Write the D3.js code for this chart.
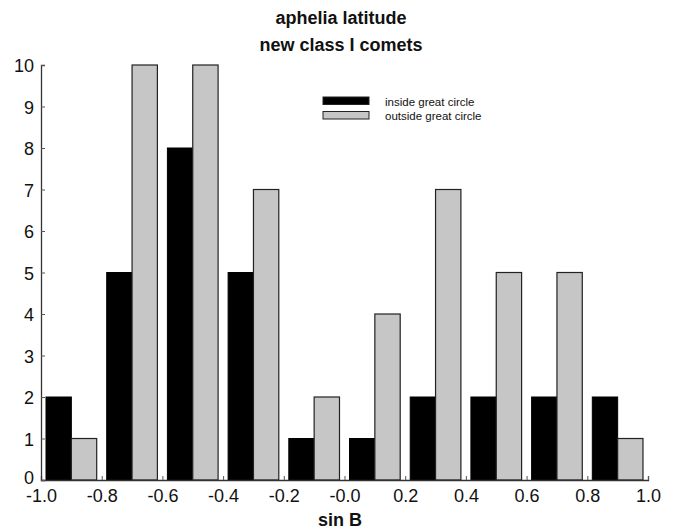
<!DOCTYPE html>
<html>
<head>
<meta charset="utf-8">
<script src="https://cdn.jsdelivr.net/npm/d3@7"></script>
<style>
  body { margin: 0; background: #fff; }
  text { font-family: "Liberation Sans", Arial, sans-serif; fill: #111; }
</style>
</head>
<body>
<svg id="chart"></svg>
<script>
// histogram bins of sin B (left edges), width 0.2
const binStarts = [-1.0, -0.8, -0.6, -0.4, -0.2, 0.0, 0.2, 0.4, 0.6, 0.8];
const insideCounts = [2, 5, 8, 5, 1, 1, 2, 2, 2, 2];
const outsideCounts = [1, 10, 10, 7, 2, 4, 7, 5, 5, 1];
const xTicks = [-1.0, -0.8, -0.6, -0.4, -0.2, 0.0, 0.2, 0.4, 0.6, 0.8, 1.0];
const xTickLabels = ['-1.0', '-0.8', '-0.6', '-0.4', '-0.2', '-0.0', '0.2', '0.4', '0.6', '0.8', '1.0'];
const yTicks = [0, 1, 2, 3, 4, 5, 6, 7, 8, 9, 10];
const seriesNames = ['inside great circle', 'outside great circle'];
const seriesColors = ['#000000', '#c6c6c6'];

const config = {
  containerWidth: 681,
  containerHeight: 531,
  margin: {top: 65, right: 33, bottom: 51, left: 41}
};
const width = config.containerWidth - config.margin.left - config.margin.right;
const height = config.containerHeight - config.margin.top - config.margin.bottom;

const svg = d3.select('#chart')
    .attr('width', config.containerWidth)
    .attr('height', config.containerHeight);

const chart = svg.append('g')
    .attr('transform', `translate(${config.margin.left},${config.margin.top})`);

const xScale = d3.scaleLinear().domain([-1, 1]).range([0, width]);
const yScale = d3.scaleLinear().domain([0, 10]).range([height, 0]);

// bar layout inside each 0.2 bin: small gap, black bar, gray bar, small gap
const pad = 0.0165;
const barW = 0.0835;

const rows = binStarts.map((b, i) => ({start: b, inside: insideCounts[i], outside: outsideCounts[i]}));

chart.selectAll('.bar-inside')
    .data(rows)
    .join('rect')
    .attr('class', 'bar-inside')
    .attr('x', d => xScale(d.start + pad))
    .attr('width', d => xScale(d.start + pad + barW) - xScale(d.start + pad))
    .attr('y', d => yScale(d.inside))
    .attr('height', d => yScale(0) - yScale(d.inside))
    .attr('fill', seriesColors[0])
    .attr('stroke', '#000')
    .attr('stroke-width', 1);

chart.selectAll('.bar-outside')
    .data(rows)
    .join('rect')
    .attr('class', 'bar-outside')
    .attr('x', d => xScale(d.start + pad + barW))
    .attr('width', d => xScale(d.start + pad + 2 * barW) - xScale(d.start + pad + barW))
    .attr('y', d => yScale(d.outside))
    .attr('height', d => yScale(0) - yScale(d.outside))
    .attr('fill', seriesColors[1])
    .attr('stroke', '#222')
    .attr('stroke-width', 1.2);

// axes, ticks point inward
const xAxis = d3.axisBottom(xScale)
    .tickValues(xTicks)
    .tickSize(-4)
    .tickPadding(11)
    .tickFormat((d, i) => xTickLabels[i]);

const yAxis = d3.axisLeft(yScale)
    .tickValues(yTicks)
    .tickSize(-4)
    .tickPadding(7)
    .tickFormat(d3.format('d'));

const xAxisG = chart.append('g')
    .attr('transform', `translate(0,${height})`)
    .call(xAxis);
const yAxisG = chart.append('g').call(yAxis);

[xAxisG, yAxisG].forEach(g => {
  g.select('.domain').attr('stroke', '#333').attr('stroke-width', 1.3);
  g.selectAll('.tick line').attr('stroke', '#555');
  g.selectAll('.tick text')
      .attr('fill', '#111')
      .style('font-family', '"Liberation Sans", Arial, sans-serif')
      .style('font-size', '18px');
});
xAxisG.selectAll('.tick text').attr('dy', '0.6em');
yAxisG.selectAll('.tick text').attr('dy', '0.38em');
// the "0" label sits just above the first x label in the original
yAxisG.selectAll('.tick text').filter(d => d === 0).attr('dy', '0.2em');

// titles
svg.append('text')
    .attr('x', 341).attr('y', 24)
    .attr('text-anchor', 'middle')
    .style('font-size', '18px').style('font-weight', 'bold')
    .text('aphelia latitude');
svg.append('text')
    .attr('x', 341).attr('y', 51)
    .attr('text-anchor', 'middle')
    .style('font-size', '18px').style('font-weight', 'bold')
    .text('new class I comets');
svg.append('text')
    .attr('x', 340).attr('y', 526)
    .attr('text-anchor', 'middle')
    .style('font-size', '18px').style('font-weight', 'bold')
    .text('sin B');

// legend
const legend = svg.append('g').attr('transform', 'translate(323,97)');
seriesNames.forEach((name, i) => {
  legend.append('rect')
      .attr('x', 0).attr('y', i * 14.5)
      .attr('width', 46).attr('height', 7.5)
      .attr('fill', seriesColors[i])
      .attr('stroke', '#222').attr('stroke-width', 1);
  legend.append('text')
      .attr('x', 62).attr('y', i * 14.5 + 8.5)
      .style('font-size', '11.5px')
      .text(name);
});
</script>
</body>
</html>
